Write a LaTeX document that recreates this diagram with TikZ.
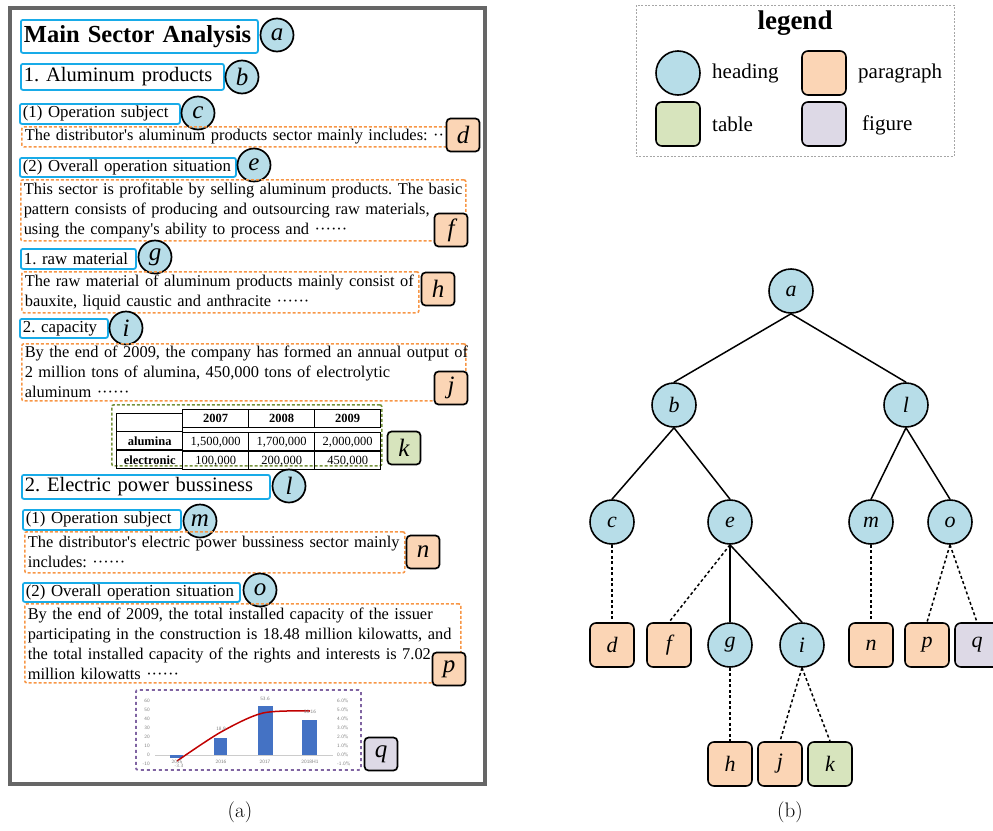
\documentclass[tikz,border=0pt]{standalone}
\usepackage{fontspec}
\usetikzlibrary{matrix}
\newfontfamily\tnr{Liberation Serif}

\definecolor{headfill}{HTML}{B7DDE8}
\definecolor{parafill}{HTML}{FBD5B5}
\definecolor{tabfill}{HTML}{D7E4BD}
\definecolor{figfill}{HTML}{DDD9E6}
\definecolor{headline}{HTML}{18ABE8}
\definecolor{paraline}{HTML}{F79646}
\definecolor{tabline}{HTML}{77933C}
\definecolor{figline}{HTML}{8064A2}
\definecolor{framegray}{HTML}{666666}
\definecolor{barblue}{HTML}{4472C4}
\definecolor{linered}{HTML}{C00000}

\tikzset{
  every node/.style={font=\tnr},
  headbox/.style={draw=headline, line width=1.8pt, rounded corners=2pt, anchor=north west,
    inner xsep=3pt, inner ysep=0pt, align=left},
  lvlone/.style={headbox, font=\tnr\bfseries\fontsize{24.5}{28}\selectfont},
  lvltwo/.style={headbox, font=\tnr\fontsize{20.5}{22}\selectfont},
  lvlthree/.style={headbox, font=\tnr\fontsize{16.8}{19}\selectfont},
  parbox/.style={draw=paraline, line width=1.6pt, dash pattern=on 3pt off 2pt, rounded corners=2pt,
    anchor=north west, inner xsep=3pt, inner ysep=0pt, align=left, font=\tnr\fontsize{16.4}{20}\selectfont},
  tabbox/.style={draw=tabline, line width=1.6pt, dash pattern=on 3pt off 2pt, rounded corners=2pt, anchor=north west},
  figbox/.style={draw=figline, line width=1.8pt, dash pattern=on 3pt off 3pt, rounded corners=2pt, anchor=north west},
  headmark/.style={circle, draw, line width=1.7pt, fill=headfill, minimum size=33pt, inner sep=0pt,
    font=\tnr\itshape\fontsize{25}{25}\selectfont},
  parmark/.style={rectangle, draw, line width=1.7pt, rounded corners=4pt, fill=parafill, minimum size=33pt,
    inner sep=0pt, font=\tnr\itshape\fontsize{25}{25}\selectfont},
  tabmark/.style={parmark, fill=tabfill},
  figmark/.style={parmark, fill=figfill},
  theading/.style={circle, draw, line width=1.6pt, fill=headfill, minimum size=44pt, inner sep=0pt,
    font=\tnr\itshape\fontsize{22}{22}\selectfont},
  tpara/.style={rectangle, draw, line width=1.6pt, rounded corners=6pt, fill=parafill, minimum size=44pt,
    inner sep=0pt, font=\tnr\itshape\fontsize{22}{22}\selectfont},
  ttable/.style={tpara, fill=tabfill},
  tfigure/.style={tpara, fill=figfill},
  tedge/.style={line width=1.5pt},
  dedge/.style={line width=1.5pt, dash pattern=on 3pt off 2.5pt},
  axlbl/.style={text=gray, inner sep=0pt, font=\sffamily\fontsize{5}{5}\selectfont},
  caption/.style={font=\rmfamily\fontsize{21}{21}\selectfont}
}

\begin{document}
\frenchspacing
\begin{tikzpicture}[x=1pt,y=-1pt]
\useasboundingbox (0,0) rectangle (993,830);

% (a) annotated document
\draw[framegray, line width=4pt] (10,8) rectangle (485,784);

\node[lvlone, text width=231pt, minimum height=33pt] (xa) at (20,19) {Main Sector Analysis};
\node[headmark] (ma) at (277,35) {a};
\node[lvltwo, text width=197pt, minimum height=26pt] (xb) at (20,63) {1. Aluminum products};
\node[headmark] (mb) at (242,77) {b};
\node[lvlthree, text width=154pt, minimum height=20pt] (xc) at (19,103) {(1) Operation subject};
\node[headmark] (mc) at (198,113) {c};
\node[parbox, text width=421pt, minimum height=20pt] (xd) at (21,126)
  {\mbox{The distributor\textquotesingle s aluminum products sector mainly includes: ··}};
\node[parmark] (md) at (463,135) {d};
\node[lvlthree, text width=210pt, minimum height=19pt] (xe) at (19,157) {(2) Overall operation situation};
\node[headmark] (me) at (254,165) {e};
\node[parbox, text width=439pt, minimum height=61pt] (xf) at (20,179)
  {\mbox{This sector is profitable by selling aluminum products. The basic}\\
   \mbox{pattern consists of producing and outsourcing raw materials,}\\
   \mbox{using the company\textquotesingle s ability to process and ······}};
\node[parmark] (mf) at (451,230) {f};
\node[lvlthree, text width=109pt, minimum height=20pt] (xg) at (20,248) {1. raw material};
\node[headmark] (mg) at (155,257) {g};
\node[parbox, text width=391pt, minimum height=41pt] (xh) at (21,271)
  {\mbox{The raw material of aluminum products mainly consist of}\\
   \mbox{bauxite, liquid caustic and anthracite ······}};
\node[parmark] (mh) at (438,289) {h};
\node[lvlthree, text width=82pt, minimum height=19pt] (xi) at (19,318) {2. capacity};
\node[headmark] (mi) at (126,328) {i};
\node[parbox, text width=438pt, minimum height=57pt] (xj) at (21,343)
  {\mbox{By the end of 2009, the company has formed an annual output of}\\
   \mbox{2 million tons of alumina, 450,000 tons of electrolytic}\\
   \mbox{aluminum ······}};
\node[parmark] (mj) at (451,388) {j};

\node[tabbox, minimum width=270pt, minimum height=61pt] (xk) at (111,404) {};
\matrix (tbl) [matrix of nodes, nodes in empty cells, anchor=north west, inner sep=0pt,
  column sep=-1pt, row sep=-1pt,
  nodes={draw, line width=1pt, minimum width=66pt, minimum height=18pt, inner sep=0pt,
    font=\tnr\fontsize{12.5}{14}\selectfont},
  row 1/.style={nodes={font=\tnr\bfseries\fontsize{12.5}{14}\selectfont}},
  column 1/.style={nodes={font=\tnr\bfseries\fontsize{12.5}{14}\selectfont}}] at (116,409) {
             & 2007      & 2008      & 2009      \\
  alumina    & 1,500,000 & 1,700,000 & 2,000,000 \\
  electronic & 100,000   & 200,000   & 450,000   \\
};
\node[tabmark] (mk) at (404,448) {k};

\node[lvltwo, text width=242pt, minimum height=24pt] (xl) at (21,474) {2. Electric power bussiness};
\node[headmark] (ml) at (289,486) {l};
\node[lvlthree, text width=152pt, minimum height=20pt] (xm) at (22,509) {(1) Operation subject};
\node[headmark] (mm) at (200,521) {m};
\node[parbox, text width=374pt, minimum height=41pt] (xn) at (24,531)
  {\mbox{The distributor\textquotesingle s electric power bussiness sector mainly}\\
   \mbox{includes: ······}};
\node[parmark] (mn) at (423,552) {n};
\node[lvlthree, text width=211pt, minimum height=19pt] (xo) at (22,582) {(2) Overall operation situation};
\node[headmark] (mo) at (260,590) {o};
\node[parbox, text width=430pt, minimum height=79pt] (xp) at (24,603)
  {\mbox{By the end of 2009, the total installed capacity of the issuer}\\
   \mbox{participating in the construction is 18.48 million kilowatts, and}\\
   \mbox{the total installed capacity of the rights and interests is 7.02}\\
   \mbox{million kilowatts ······}};
\node[parmark] (mp) at (449,669) {p};

\node[figbox, minimum width=225pt, minimum height=80pt] (xq) at (135,689) {};
% small chart
\draw[gray!40, line width=0.5pt] (155,755) -- (333,755);
\fill[barblue] (170,755) rectangle (183,758);
\fill[barblue] (214,755) rectangle (227,738);
\fill[barblue] (258,755) rectangle (273,706);
\fill[barblue] (302,755) rectangle (317,720);
\draw[linered, line width=1.5pt] plot[smooth, tension=0.5] coordinates {(177,761) (221,732) (263,713) (310,711)};
\foreach \v in {-10,0,10,20,30,40,50,60}
  \node[axlbl, anchor=east] at (150,{755-0.9*\v}) {\v};
\foreach \p in {-1.0,0.0,1.0,2.0,3.0,4.0,5.0,6.0}
  \node[axlbl, anchor=west] at (337,{755-9*\p}) {\p\%};
\foreach \yr/\xx in {2015/177,2016/221,2017/265,2018H1/310}
  \node[axlbl] at (\xx,762) {\yr};
\node[axlbl] at (265,699) {53.6};
\node[axlbl] at (310,712) {38.16};
\node[axlbl] at (221,729) {18.9};
\node[axlbl] at (179,766) {-3.3};
\node[figmark] (mq) at (381,754) {q};

\node[caption] (capa) at (240,812) {(a)};

% legend
\draw[gray!70, line width=1pt, dash pattern=on 2pt off 1.5pt] (636,5) rectangle (954,156);
\node[font=\tnr\bfseries\fontsize{27}{27}\selectfont] (legtitle) at (795,23) {legend};
\node[theading] (lh) at (678,73) {};
\node[anchor=west, inner sep=0pt, font=\tnr\fontsize{21}{21}\selectfont] (lht) at (712,73) {heading};
\node[tpara] (lp) at (824,73) {};
\node[anchor=west, inner sep=0pt, font=\tnr\fontsize{21}{21}\selectfont] (lpt) at (858,73) {paragraph};
\node[ttable] (lt) at (678,124) {};
\node[anchor=west, inner sep=0pt, font=\tnr\fontsize{21}{21}\selectfont] (ltt) at (712,124) {table};
\node[tfigure] (lf) at (824,124) {};
\node[anchor=west, inner sep=0pt, font=\tnr\fontsize{21}{21}\selectfont] (lft) at (862,125) {figure};

% (b) tree
\node[theading] (ta) at (791,291) {a};
\node[theading] (tb) at (674,405) {b};
\node[theading] (tl) at (906,405) {l};
\node[theading] (tc) at (612,522) {c};
\node[theading] (te) at (730,522) {e};
\node[theading] (tm) at (871,522) {m};
\node[theading] (to) at (950,522) {o};
\node[tpara] (td) at (612,645) {d};
\node[tpara] (tf) at (669,645) {f};
\node[theading] (tg) at (730,645) {g};
\node[theading] (ti) at (802,645) {i};
\node[tpara] (tn) at (871,645) {n};
\node[tpara] (tp) at (927,645) {p};
\node[tfigure] (tq) at (977,645) {q};
\node[tpara] (th) at (730,764) {h};
\node[tpara] (tj) at (780,764) {j};
\node[ttable] (tk) at (830,764) {k};

\draw[tedge] (ta.south) -- (tb.north);
\draw[tedge] (ta.south) -- (tl.north);
\draw[tedge] (tb.south) -- (tc.north);
\draw[tedge] (tb.south) -- (te.north);
\draw[tedge] (tl.south) -- (tm.north);
\draw[tedge] (tl.south) -- (to.north);
\draw[tedge] (te.south) -- (tg.north);
\draw[tedge] (te.south) -- (ti.north);
\draw[dedge] (tc.south) -- (td.north);
\draw[dedge] (te.south) -- (tf.north);
\draw[dedge] (tm.south) -- (tn.north);
\draw[dedge] (to.south) -- (tp.north);
\draw[dedge] (to.south) -- (tq.north);
\draw[dedge] (tg.south) -- (th.north);
\draw[dedge] (ti.south) -- (tj.north);
\draw[dedge] (ti.south) -- (tk.north);

\node[caption] (capb) at (790,812) {(b)};
\end{tikzpicture}
\end{document}
